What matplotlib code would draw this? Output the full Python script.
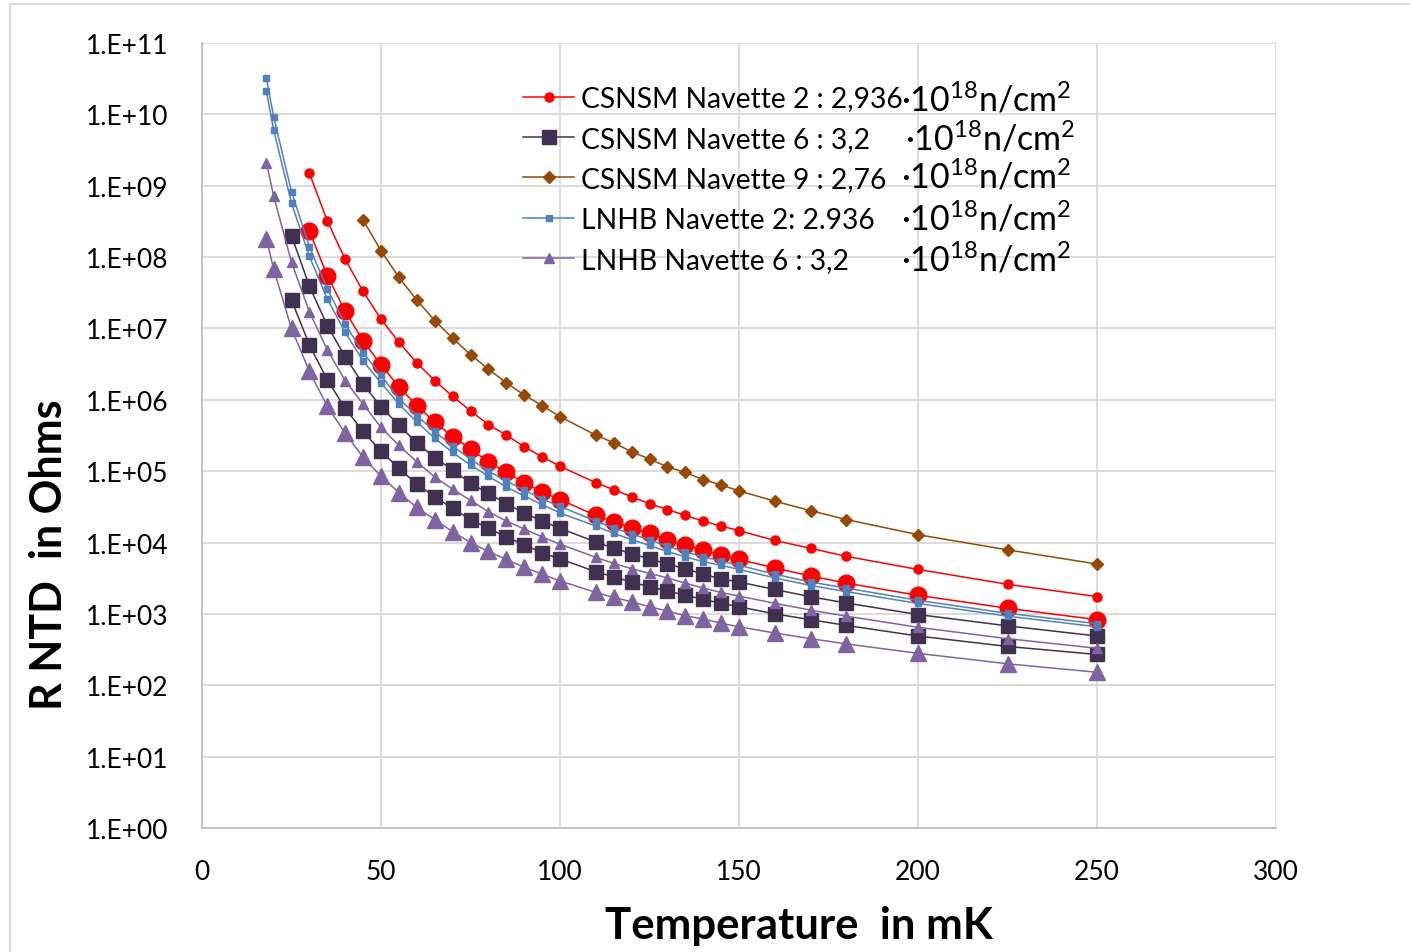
import numpy as np
import matplotlib
matplotlib.use("Agg")
import matplotlib.pyplot as plt
from matplotlib.lines import Line2D

plt.rcParams['font.family'] = ['Lato', 'DejaVu Sans']

# temperatures (mK) used by the series
tAll = [18, 20, 25, 30, 35, 40, 45, 50, 55, 60, 65, 70, 75, 80, 85, 90, 95, 100,
        110, 115, 120, 125, 130, 135, 140, 145, 150, 160, 170, 180, 200, 225, 250]
t25 = tAll[2:]
t30 = tAll[3:]
t45 = tAll[6:]

# CSNSM Navette 2 (two measurements)
csnsm2_a = [1.5e9, 3.2e8, 9.3e7, 3.3e7, 1.35e7, 6.4e6, 3.3e6, 1.86e6, 1.12e6, 7.0e5,
            4.5e5, 3.2e5, 2.2e5, 1.59e5, 1.17e5, 6.9e4, 5.5e4, 4.4e4, 3.5e4, 2.9e4,
            2.4e4, 2.0e4, 1.7e4, 1.47e4, 1.07e4, 8.3e3, 6.4e3, 4.2e3, 2.6e3, 1.75e3]
csnsm2_b = [2.3e8, 5.5e7, 1.74e7, 6.7e6, 3.1e6, 1.52e6, 8.3e5, 4.9e5, 3.05e5, 2.05e5,
            1.35e5, 9.6e4, 6.9e4, 5.1e4, 4.0e4, 2.4e4, 1.95e4, 1.6e4, 1.35e4, 1.1e4,
            9.3e3, 7.9e3, 6.7e3, 5.8e3, 4.4e3, 3.4e3, 2.7e3, 1.82e3, 1.2e3, 8.3e2]

# CSNSM Navette 6 (two measurements)
csnsm6_a = [2.0e8, 3.9e7, 1.1e7, 4.0e6, 1.66e6, 8.0e5, 4.4e5, 2.5e5, 1.55e5, 1.04e5,
            6.8e4, 4.9e4, 3.5e4, 2.6e4, 2.0e4, 1.58e4, 1.02e4, 8.3e3, 7.0e3, 5.9e3,
            5.0e3, 4.3e3, 3.6e3, 3.1e3, 2.8e3, 2.2e3, 1.74e3, 1.42e3, 9.8e2, 6.8e2, 4.9e2]
csnsm6_b = [2.5e7, 5.9e6, 1.9e6, 7.6e5, 3.6e5, 1.9e5, 1.1e5, 6.6e4, 4.4e4, 3.0e4,
            2.1e4, 1.58e4, 1.2e4, 9.3e3, 7.2e3, 5.9e3, 3.9e3, 3.3e3, 2.8e3, 2.4e3,
            2.1e3, 1.82e3, 1.6e3, 1.41e3, 1.26e3, 1.0e3, 8.3e2, 6.9e2, 4.9e2, 3.5e2, 2.7e2]

# CSNSM Navette 9
csnsm9 = [3.3e8, 1.23e8, 5.2e7, 2.5e7, 1.29e7, 7.3e6, 4.3e6, 2.7e6, 1.73e6, 1.17e6,
          8.3e5, 5.8e5, 3.2e5, 2.5e5, 1.87e5, 1.48e5, 1.15e5, 9.6e4, 7.6e4, 6.4e4,
          5.3e4, 3.8e4, 2.8e4, 2.1e4, 1.29e4, 7.9e3, 5.0e3]

# LNHB Navette 2 (two measurements)
lnhb2_a = [3.2e10, 9.3e9, 8.3e8, 1.4e8, 3.6e7, 1.15e7, 4.6e6, 2.2e6, 1.04e6, 6.0e5,
           3.6e5, 2.25e5, 1.48e5, 1.0e5, 7.3e4, 5.4e4, 4.1e4, 3.2e4, 2.0e4, 1.6e4,
           1.32e4, 1.09e4, 8.9e3, 7.4e3, 6.3e3, 5.5e3, 4.8e3, 3.6e3, 2.8e3, 2.3e3,
           1.55e3, 1.02e3, 7.3e2]
lnhb2_b = [2.1e10, 6.1e9, 5.7e8, 1.02e8, 2.6e7, 8.8e6, 3.5e6, 1.73e6, 8.7e5, 4.9e5,
           2.9e5, 1.83e5, 1.22e5, 8.5e4, 6.0e4, 4.5e4, 3.4e4, 2.6e4, 1.7e4, 1.35e4,
           1.1e4, 9.1e3, 7.5e3, 6.3e3, 5.4e3, 4.8e3, 4.2e3, 3.2e3, 2.5e3, 2.05e3,
           1.4e3, 9.3e2, 6.6e2]

# LNHB Navette 6 (two measurements)
lnhb6_a = [2.1e9, 7.2e8, 8.5e7, 1.71e7, 5.0e6, 1.86e6, 8.7e5, 4.1e5, 2.3e5, 1.35e5,
           8.3e4, 5.6e4, 3.9e4, 2.7e4, 2.0e4, 1.55e4, 1.2e4, 9.5e3, 6.2e3, 5.1e3,
           4.3e3, 3.7e3, 3.2e3, 2.7e3, 2.3e3, 2.0e3, 1.78e3, 1.41e3, 1.13e3, 9.3e2,
           6.5e2, 4.5e2, 3.3e2]
lnhb6_b = [1.8e8, 6.8e7, 1.0e7, 2.5e6, 8.1e5, 3.4e5, 1.56e5, 8.5e4, 5.0e4, 3.1e4,
           2.1e4, 1.42e4, 1.0e4, 7.5e3, 5.8e3, 4.5e3, 3.6e3, 2.9e3, 2.0e3, 1.7e3,
           1.48e3, 1.26e3, 1.1e3, 9.4e2, 8.5e2, 7.4e2, 6.6e2, 5.4e2, 4.5e2, 3.8e2,
           2.8e2, 2.0e2, 1.52e2]

legendLabels = ["CSNSM Navette 2 : 2,936", "CSNSM Navette 6 : 3,2", "CSNSM Navette 9 : 2,76",
                "LNHB Navette 2: 2.936", "LNHB Navette 6 : 3,2"]
fluenceText = r'·$\mathregular{10^{18}n/cm^{2}}$'

yTicks = [10.0 ** k for k in range(0, 12)]
yTickLabels = ["1.E+{:02d}".format(k) for k in range(0, 12)]
xTicks = [0, 50, 100, 150, 200, 250, 300]

red = "#ff0000"
dark = "#403151"
brown = "#984807"
blue = "#4f81bd"
purple = "#8064a2"

fig = plt.figure(figsize=(14.1, 9.53), dpi=100)
ax = fig.add_axes([202/1410, 1-829/953, 1074/1410, 785/953])

lw = 1.1
ax.plot(t30, csnsm2_a, color=red, lw=lw, marker='o', ms=6.5, label=legendLabels[0], zorder=3)
ax.plot(t30, csnsm2_b, color=red, lw=lw, marker='o', ms=12, zorder=3)
ax.plot(t25, csnsm6_a, color=dark, lw=lw, marker='s', ms=10, label=legendLabels[1], zorder=3)
ax.plot(t25, csnsm6_b, color=dark, lw=lw, marker='s', ms=10, zorder=3)
ax.plot(t45, csnsm9, color=brown, lw=lw, marker='D', ms=6, label=legendLabels[2], zorder=3)
ax.plot(tAll, lnhb2_a, color=blue, lw=lw, marker='s', ms=5, label=legendLabels[3], zorder=4)
ax.plot(tAll, lnhb2_b, color=blue, lw=lw, marker='s', ms=5, zorder=4)
ax.plot(tAll, lnhb6_a, color=purple, lw=lw, marker='^', ms=7.5, label=legendLabels[4], zorder=4)
ax.plot(tAll, lnhb6_b, color=purple, lw=lw, marker='^', ms=11, zorder=4)

ax.set_yscale('log')
ax.set_ylim(1, 1e11)
ax.set_xlim(0, 300)
ax.set_yticks(yTicks)
ax.set_yticklabels(yTickLabels)
ax.minorticks_off()
ax.set_xticks(xTicks)
ax.tick_params(axis='both', length=0, labelsize=19)
ax.tick_params(axis='y', pad=24)
ax.tick_params(axis='x', pad=22)
ax.grid(True, color='#d9d9d9', lw=1.3)
ax.set_axisbelow(True)
for s in ['top', 'right']:
    ax.spines[s].set_visible(False)
for s in ['left', 'bottom']:
    ax.spines[s].set_color('#bfbfbf')
    ax.spines[s].set_linewidth(1.3)

ax.set_xlabel("Temperature  in mK", fontsize=31.5, fontweight='bold')
ax.xaxis.set_label_coords(0.556, -0.098)
ax.set_ylabel("R NTD  in Ohms", fontsize=31, fontweight='bold')
ax.yaxis.set_label_coords(-0.124, 0.35)

leg = ax.legend(loc='upper left', bbox_to_anchor=(0.299, 0.946), frameon=False, fontsize=20.3,
                handlelength=1.8, handletextpad=0.25, labelspacing=0.51, borderpad=0,
                borderaxespad=0)

# fluence text boxes next to the legend
fluenceX = [0.6505, 0.655, 0.6505, 0.6505, 0.6505]
fluenceY = [0.929, 0.879, 0.830, 0.777, 0.725]
for fx, fy in zip(fluenceX, fluenceY):
    ax.text(fx, fy, fluenceText, transform=ax.transAxes, fontsize=24.5, va='center', ha='left')

# chart border
fig.add_artist(Line2D([10/1410, 1], [1-5/953, 1-5/953], color='#d9d9d9', lw=1.5))
fig.add_artist(Line2D([10/1410, 10/1410], [0, 1-5/953], color='#d9d9d9', lw=1.5))

plt.savefig("out.png", dpi=100)
